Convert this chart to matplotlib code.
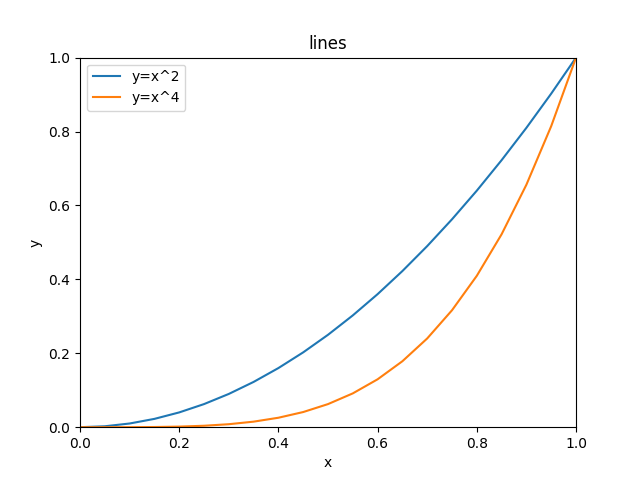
import matplotlib
matplotlib.use("Agg")
import matplotlib.pyplot as plt

x_vals = [0.0, 0.05, 0.1, 0.15, 0.2, 0.25, 0.3, 0.35, 0.4, 0.45, 0.5,
          0.55, 0.6, 0.65, 0.7, 0.75, 0.8, 0.85, 0.9, 0.95, 1.0]
y_sq = [0.0, 0.0025, 0.01, 0.0225, 0.04, 0.0625, 0.09, 0.1225, 0.16, 0.2025, 0.25,
        0.3025, 0.36, 0.4225, 0.49, 0.5625, 0.64, 0.7225, 0.81, 0.9025, 1.0]
y_quad = [0.0, 0.00001, 0.0001, 0.0005, 0.0016, 0.0039, 0.0081, 0.015, 0.0256, 0.041, 0.0625,
          0.0915, 0.1296, 0.1785, 0.2401, 0.3164, 0.4096, 0.522, 0.6561, 0.8145, 1.0]

fig, ax = plt.subplots(figsize=(6.4, 4.8), dpi=100)
ax.plot(x_vals, y_sq, label="y=x^2")
ax.plot(x_vals, y_quad, label="y=x^4")
ax.set_xlim(0, 1)
ax.set_ylim(0, 1)
ax.set_xlabel("x")
ax.set_ylabel("y")
ax.set_title("lines")
ax.legend(loc="upper left")
fig.savefig("out.png")
